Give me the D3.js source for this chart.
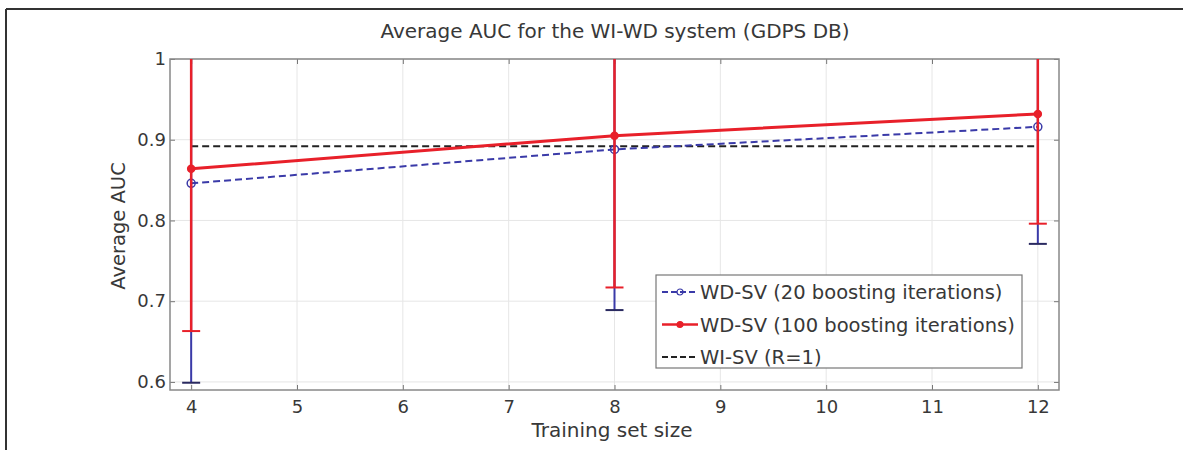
<!DOCTYPE html>
<html>
<head>
<meta charset="utf-8">
<script src="https://cdn.jsdelivr.net/npm/d3@7"></script>
<style>
  body { margin: 0; background: #fff; }
  svg { display: block; font-family: "DejaVu Sans", sans-serif; }
</style>
</head>
<body>
<svg id="chart" width="1183" height="450"></svg>
<script>
// data
var trainSizes = [4, 8, 12];
var auc20 = [0.846, 0.888, 0.916];
var err20 = [0.247, 0.199, 0.145];
var auc100 = [0.864, 0.905, 0.932];
var err100 = [0.201, 0.188, 0.136];
var wiSvLevel = 0.892;
var xTicks = [4, 5, 6, 7, 8, 9, 10, 11, 12];
var yTicks = [0.6, 0.7, 0.8, 0.9, 1];
var legendLabels = ["WD-SV (20 boosting iterations)", "WD-SV (100 boosting iterations)", "WI-SV (R=1)"];

var svg = d3.select("#chart");
var margin = {left: 170, top: 59, right: 1059, bottom: 390};
var textColor = "#383838";

var x = d3.scaleLinear().domain([3.8, 12.2]).range([margin.left, margin.right]);
var y = d3.scaleLinear().domain([0.59, 1]).range([margin.bottom, margin.top]);

// outer frame (only top and left edges show)
svg.append("line").attr("x1", 6).attr("y1", 9).attr("x2", 1183).attr("y2", 9)
    .style("stroke", "#333").style("stroke-width", 2);
svg.append("line").attr("x1", 6).attr("y1", 9).attr("x2", 6).attr("y2", 450)
    .style("stroke", "#333").style("stroke-width", 2);

// grid
var grid = svg.append("g");
grid.selectAll("line.gx")
    .data(xTicks)
    .enter()
    .append("line")
    .attr("x1", d => x(d)).attr("x2", d => x(d))
    .attr("y1", margin.top).attr("y2", margin.bottom)
    .style("stroke", "#e6e6e6").style("stroke-width", 1);
grid.selectAll("line.gy")
    .data(yTicks)
    .enter()
    .append("line")
    .attr("y1", d => y(d)).attr("y2", d => y(d))
    .attr("x1", margin.left).attr("x2", margin.right)
    .style("stroke", "#e6e6e6").style("stroke-width", 1);

// axes with inward ticks (matlab box style)
var plotH = margin.bottom - margin.top,
    plotW = margin.right - margin.left;
var axB = svg.append("g").attr("transform", "translate(0," + margin.bottom + ")")
    .call(d3.axisBottom(x).tickValues(xTicks).tickSizeInner(-5).tickSizeOuter(0).tickPadding(10));
var axT = svg.append("g").attr("transform", "translate(0," + margin.top + ")")
    .call(d3.axisTop(x).tickValues(xTicks).tickSizeInner(-5).tickSizeOuter(0).tickFormat(""));
var axL = svg.append("g").attr("transform", "translate(" + margin.left + ",0)")
    .call(d3.axisLeft(y).tickValues(yTicks).tickSizeInner(-5).tickSizeOuter(0).tickPadding(4)
        .tickFormat(d => d === 1 ? "1" : d3.format(".1f")(d)));
var axR = svg.append("g").attr("transform", "translate(" + margin.right + ",0)")
    .call(d3.axisRight(y).tickValues(yTicks).tickSizeInner(-5).tickSizeOuter(0).tickFormat(""));
[axB, axT, axL, axR].forEach(function(a) {
    a.select(".domain").remove();
    a.selectAll("line").style("stroke", "#777");
    a.selectAll("text").style("font-size", "18px").style("fill", textColor)
        .style("font-family", "'DejaVu Sans', sans-serif");
});
svg.append("rect")
    .attr("x", margin.left).attr("y", margin.top)
    .attr("width", plotW).attr("height", plotH)
    .style("fill", "none").style("stroke", "#888").style("stroke-width", 1.5);

// clip for the error bars running past 1
svg.append("clipPath").attr("id", "plotClip")
    .append("rect").attr("x", margin.left).attr("y", margin.top)
    .attr("width", plotW).attr("height", plotH);
var plot = svg.append("g").attr("clip-path", "url(#plotClip)");

var line = d3.line().x(d => x(d[0])).y(d => y(d[1]));

// WI-SV reference
plot.append("path")
    .attr("d", line([[trainSizes[0], wiSvLevel], [trainSizes[trainSizes.length - 1], wiSvLevel]]))
    .style("fill", "none").style("stroke", "#222").style("stroke-width", 2)
    .style("stroke-dasharray", "7,4");

var drawSeries = function(vals, errs, color, opts) {
    var g = plot.append("g");
    var pts = trainSizes.map((t, i) => [t, vals[i], errs[i]]);
    g.selectAll("line.bar")
        .data(pts)
        .enter()
        .append("line")
        .attr("x1", d => x(d[0])).attr("x2", d => x(d[0]))
        .attr("y1", d => y(d[1] - d[2])).attr("y2", d => y(d[1] + d[2]))
        .style("stroke", color).style("stroke-width", opts.barW);
    g.selectAll("line.cap")
        .data(pts)
        .enter()
        .append("line")
        .attr("x1", d => x(d[0]) - 9).attr("x2", d => x(d[0]) + 9)
        .attr("y1", d => y(d[1] - d[2])).attr("y2", d => y(d[1] - d[2]))
        .style("stroke", opts.capColor).style("stroke-width", 2);
    g.append("path")
        .attr("d", line(pts))
        .style("fill", "none").style("stroke", color)
        .style("stroke-width", opts.lineW)
        .style("stroke-dasharray", opts.dash);
    g.selectAll("circle")
        .data(pts)
        .enter()
        .append("circle")
        .attr("cx", d => x(d[0])).attr("cy", d => y(d[1]))
        .attr("r", opts.r)
        .style("fill", opts.fill).style("stroke", color).style("stroke-width", 1.5);
};

drawSeries(auc20, err20, "#3a3aa8", {barW: 2, lineW: 2, dash: "7,4", r: 4, fill: "none", capColor: "#2a2a60"});
drawSeries(auc100, err100, "#e8202a", {barW: 2.5, lineW: 3, dash: null, r: 3.5, fill: "#e8202a", capColor: "#e8202a"});

// legend
var lg = svg.append("g");
lg.append("rect").attr("x", 656).attr("y", 275).attr("width", 366).attr("height", 93)
    .style("fill", "#fff").style("stroke", "#777").style("stroke-width", 1.2);
var legendRows = [
    {label: legendLabels[0], color: "#3a3aa8", dash: "6,3", w: 2, marker: "open"},
    {label: legendLabels[1], color: "#e8202a", dash: null, w: 2.5, marker: "filled"},
    {label: legendLabels[2], color: "#222", dash: "6,3", w: 2, marker: null}
];
var rowY = d3.scalePoint().domain(legendRows.map(d => d.label)).range([292, 357]);
var rows = lg.selectAll("g.row")
    .data(legendRows)
    .enter()
    .append("g")
    .attr("transform", d => "translate(0," + rowY(d.label) + ")");
rows.append("line")
    .attr("x1", 662).attr("x2", 698).attr("y1", 0).attr("y2", 0)
    .style("stroke", d => d.color).style("stroke-width", d => d.w)
    .style("stroke-dasharray", d => d.dash);
rows.filter(d => d.marker)
    .append("circle")
    .attr("cx", 680).attr("cy", 0).attr("r", 3)
    .style("fill", d => d.marker === "filled" ? d.color : "none")
    .style("stroke", d => d.color).style("stroke-width", 1.2);
rows.append("text")
    .attr("x", 700).attr("y", 0).attr("dy", "0.36em")
    .text(d => d.label)
    .style("font-size", "19.5px").style("fill", textColor);

// titles
svg.append("text")
    .text("Average AUC for the WI-WD system (GDPS DB)")
    .attr("x", 615).attr("y", 38)
    .attr("text-anchor", "middle")
    .style("font-size", "20px").style("fill", textColor);
svg.append("text")
    .text("Training set size")
    .attr("x", 612).attr("y", 437)
    .attr("text-anchor", "middle")
    .style("font-size", "20px").style("fill", textColor);
svg.append("text")
    .text("Average AUC")
    .attr("transform", "translate(125,226) rotate(-90)")
    .attr("text-anchor", "middle")
    .style("font-size", "19.5px").style("fill", textColor);
</script>
</body>
</html>
